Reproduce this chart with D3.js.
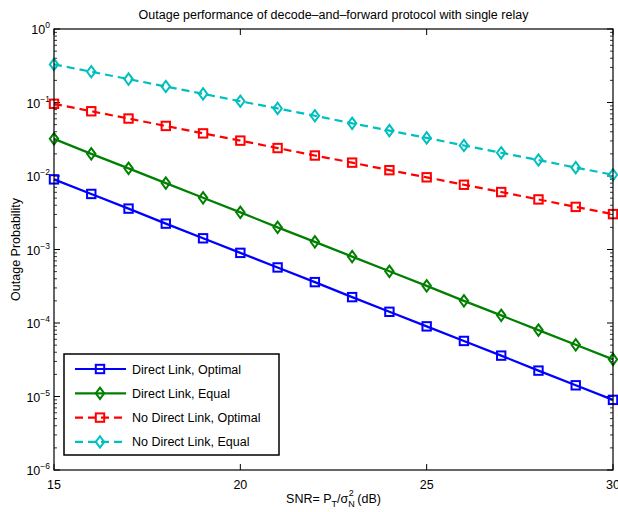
<!DOCTYPE html>
<html><head><meta charset="utf-8">
<script src="https://cdn.jsdelivr.net/npm/d3@7"></script>
<style>body{margin:0;background:#fff}svg{display:block}text{font-family:"Liberation Sans",Arial,sans-serif;fill:#000}</style>
</head><body><svg id="c" width="618" height="512"></svg>
<script>
const snr = [15,16,17,18,19,20,21,22,23,24,25,26,27,28,29,30];
const directOptimal = [9e-3,5.7e-3,3.6e-3,2.25e-3,1.42e-3,9e-4,5.7e-4,3.6e-4,2.25e-4,1.42e-4,9e-5,5.7e-5,3.6e-5,2.25e-5,1.42e-5,9e-6];
const directEqual = [3.2e-2,2.0e-2,1.27e-2,8.0e-3,5.05e-3,3.2e-3,2.0e-3,1.27e-3,8.0e-4,5.05e-4,3.2e-4,2.0e-4,1.27e-4,8.0e-5,5.05e-5,3.2e-5];
const noDirectOptimal = [9.6e-2,7.6e-2,6.05e-2,4.8e-2,3.8e-2,3.03e-2,2.4e-2,1.9e-2,1.52e-2,1.2e-2,9.6e-3,7.6e-3,6.05e-3,4.8e-3,3.8e-3,3.03e-3];
const noDirectEqual = [0.33,0.262,0.208,0.165,0.131,0.104,0.083,0.066,0.052,0.0415,0.033,0.026,0.0207,0.0165,0.013,0.0104];
const seriesNames = ["Direct Link, Optimal","Direct Link, Equal","No Direct Link, Optimal","No Direct Link, Equal"];
const seriesColors = ["#0000ff","#008000","#ff0000","#00bfbf"];
const seriesMarkers = ["square","diamond","square","diamond"];
const seriesDashed = [false,false,true,true];
const xTicks = [15,20,25,30];
const yExps = [0,-1,-2,-3,-4,-5,-6];
const titleText = "Outage performance of decode\u2013and\u2013forward protocol with single relay";
const yLabel = "Outage Probability";

const seriesValues = [directOptimal,directEqual,noDirectOptimal,noDirectEqual];
const svg = d3.select("#c");
const L=54,R=613,T=29,B=470;
const FS=12.5;
const x = d3.scaleLinear().domain([15,30]).range([L,R]);
const y = d3.scaleLog().domain([1e-6,1]).range([B,T]);

const g = svg.append("g");
const minors=[];
for(let e=-6;e<0;e++) for(let m=2;m<=9;m++) minors.push(m*Math.pow(10,e));
minors.forEach(v=>{
  g.append("line").attr("x1",L).attr("x2",L+3).attr("y1",y(v)).attr("y2",y(v)).attr("stroke","#000").attr("stroke-width",0.8);
  g.append("line").attr("x1",R).attr("x2",R-3).attr("y1",y(v)).attr("y2",y(v)).attr("stroke","#000").attr("stroke-width",0.8);
});
yExps.forEach(e=>{
  const v=Math.pow(10,e);
  g.append("line").attr("x1",L).attr("x2",L+6).attr("y1",y(v)).attr("y2",y(v)).attr("stroke","#000");
  g.append("line").attr("x1",R).attr("x2",R-6).attr("y1",y(v)).attr("y2",y(v)).attr("stroke","#000");
  const t=g.append("text").attr("x",L-4).attr("y",y(v)+5).attr("text-anchor","end").attr("font-size",FS);
  t.append("tspan").text("10");
  t.append("tspan").attr("dy",-6).attr("font-size",8.5).text(e===0?"0":"\u2212"+(-e));
});
xTicks.forEach(v=>{
  g.append("line").attr("x1",x(v)).attr("x2",x(v)).attr("y1",B).attr("y2",B-6).attr("stroke","#000");
  g.append("line").attr("x1",x(v)).attr("x2",x(v)).attr("y1",T).attr("y2",T+6).attr("stroke","#000");
  g.append("text").attr("x",x(v)).attr("y",B+19).attr("text-anchor","middle").attr("font-size",FS).text(v);
});

const line = d3.line().x((d,i)=>x(snr[i])).y(d=>y(d));
function marker(sel,type,cx,cy,color,s){
  if(type==="square"){
    sel.append("rect").attr("x",cx-s).attr("y",cy-s).attr("width",2*s).attr("height",2*s)
      .attr("fill","none").attr("stroke",color).attr("stroke-width",2);
  } else {
    sel.append("path").attr("d",`M${cx},${cy-s*1.35}L${cx+s},${cy}L${cx},${cy+s*1.35}L${cx-s},${cy}Z`)
      .attr("fill","none").attr("stroke",color).attr("stroke-width",2);
  }
}
const plot = svg.append("g");
seriesValues.forEach((vals,k)=>{
  plot.append("path").attr("d",line(vals)).attr("fill","none").attr("stroke",seriesColors[k])
    .attr("stroke-width",2.2).attr("stroke-dasharray",seriesDashed[k]?"8,5":null);
  vals.forEach((v,i)=>marker(plot,seriesMarkers[k],x(snr[i]),y(v),seriesColors[k],4.2));
});

svg.append("rect").attr("x",L).attr("y",T).attr("width",R-L).attr("height",B-T).attr("fill","none").attr("stroke","#000").attr("stroke-width",1.2);

const lg = svg.append("g");
lg.append("rect").attr("x",64).attr("y",354).attr("width",215).attr("height",101).attr("fill","#fff").attr("stroke","#000").attr("stroke-width",1.5);
seriesNames.forEach((n,k)=>{
  const yy = 369 + k*24.3;
  lg.append("line").attr("x1",75).attr("x2",126).attr("y1",yy).attr("y2",yy).attr("stroke",seriesColors[k])
    .attr("stroke-width",2.2).attr("stroke-dasharray",seriesDashed[k]?"8,5":null);
  marker(lg,seriesMarkers[k],100,yy,seriesColors[k],4.2);
  lg.append("text").attr("x",132).attr("y",yy+4.5).attr("font-size",FS).text(n);
});

svg.append("text").attr("x",(L+R)/2).attr("y",19).attr("text-anchor","middle").attr("font-size",FS).text(titleText);
svg.append("text").attr("transform",`translate(20,${(T+B)/2}) rotate(-90)`).attr("text-anchor","middle").attr("font-size",FS).text(yLabel);
const xl = svg.append("text").attr("x",(L+R)/2).attr("y",503).attr("text-anchor","middle").attr("font-size",FS);
xl.append("tspan").text("SNR= P");
xl.append("tspan").attr("dy",4).attr("font-size",9).text("T");
xl.append("tspan").attr("dy",-4).text("/\u03c3");
xl.append("tspan").attr("dy",4).attr("font-size",9).text("N");
xl.append("tspan").attr("dx",-6).attr("dy",-11).attr("font-size",9).text("2");
xl.append("tspan").attr("dy",7).text(" (dB)");
</script></body></html>
